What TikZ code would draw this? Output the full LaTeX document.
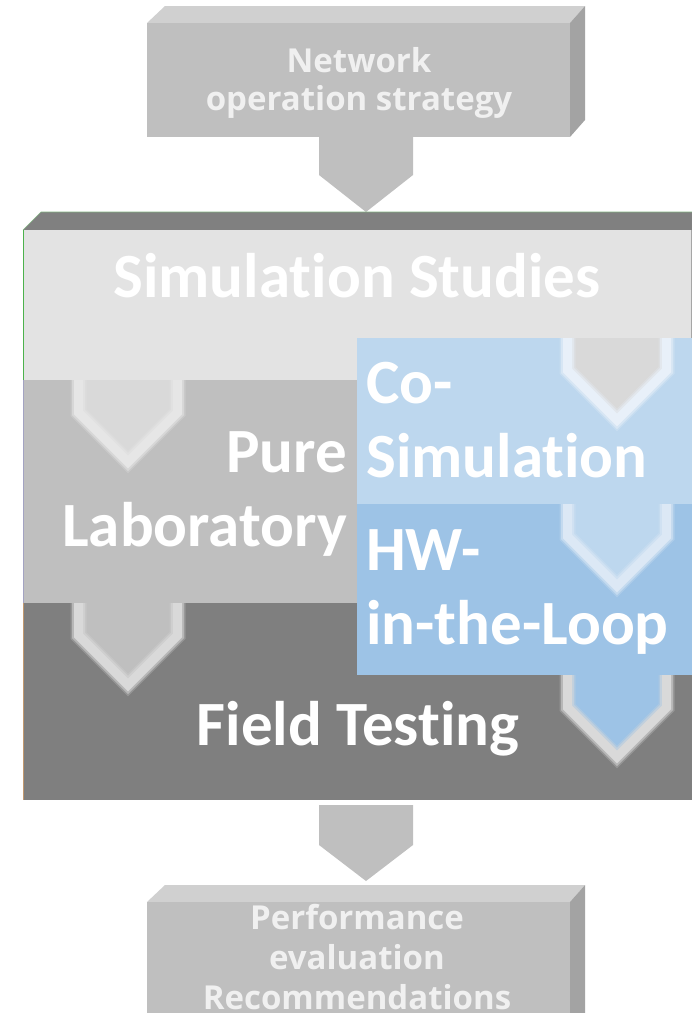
\documentclass[tikz,border=0pt]{standalone}
\usepackage{fontspec}
\setmainfont{Carlito}[Ligatures={NoCommon,NoContextual}]
\newfontfamily\boxfont{Open Sans}

% stacked lines whose baseline is the first line
\newcommand{\txtstack}[2]{\begin{tabular}[t]{@{}#1@{}}#2\end{tabular}}

\definecolor{boxfront}{HTML}{BFBFBF}
\definecolor{boxtop}{HTML}{D0D0D0}
\definecolor{boxside}{HTML}{A3A3A3}
\definecolor{bevel}{HTML}{808080}
\definecolor{simband}{HTML}{E3E3E3}
\definecolor{labband}{HTML}{BFBFBF}
\definecolor{fieldband}{HTML}{7F7F7F}
\definecolor{cosim}{HTML}{BDD7EE}
\definecolor{hwloop}{HTML}{9DC3E6}
\definecolor{glowgray}{HTML}{E6E6E6}
\definecolor{glowdark}{HTML}{D9D9D9}
\definecolor{glowblue}{HTML}{E8F0F9}
\definecolor{glowblue2}{HTML}{DCE8F5}

\tikzset{
  bigtext/.style={inner sep=0pt, text=white, font=\fontsize{63}{74}\selectfont\bfseries},
  smalltext/.style={inner sep=0pt, text=white!94!black, font=\boxfont\fontsize{33}{#1}\selectfont\bfseries},
}

% hollow chevron: centre x, top y, rim colour, inner colour
\newcommand{\chevron}[4]{%
  \fill[#4] ({#1-49.5},#2) -- ({#1-49.5},{#2+32.5}) -- (#1,{#2+82}) -- ({#1+49.5},{#2+32.5}) -- ({#1+49.5},#2) -- cycle;
  \foreach \w/\o in {16/0.25, 13/0.5, 9/1}{
    \draw[#3, line width=\w pt, opacity=\o, line join=miter]
      ({#1-49.5},#2) -- ({#1-49.5},{#2+32.5}) -- (#1,{#2+82}) -- ({#1+49.5},{#2+32.5}) -- ({#1+49.5},#2);
  }%
}

\begin{document}
\begin{tikzpicture}[x=1pt, y=-1pt]
\useasboundingbox (0,0) rectangle (692,1013);
\clip (0,0) rectangle (692,1013);

% ---- input block ----
\fill[boxtop] (147,23) -- (165,6) -- (585,6) -- (570,23) -- cycle;
\fill[boxside] (570,23) -- (585,6) -- (585,120) -- (570,137) -- cycle;
\fill[boxfront] (147,23) rectangle (570,137);
\node[smalltext=38, anchor=base] (strategy) at (359,72)
  {\txtstack{c}{Network\\operation strategy}};
\fill[boxfront] (319,137) -- (413,137) -- (413,175) -- (366,212) -- (319,175) -- cycle;

% ---- stacked stages ----
\fill[bevel] (23,230) -- (41,212) -- (692,212) -- (692,230) -- cycle;
\draw[green!25!gray!80, line width=0.6pt] (23,230) -- (41,212) -- (692,212);
\fill[simband] (23,230) rectangle (692,380);
\fill[labband] (23,380) rectangle (692,603);
\fill[fieldband] (23,603) rectangle (692,800);
\draw[green!40!gray, line width=1pt] (23.5,230) -- (23.5,380);
\draw[blue!20!gray!60, line width=1pt] (23.5,380) -- (23.5,603);
\draw[orange!40!gray!80, line width=1pt] (23.5,603) -- (23.5,800);
\draw[gray!70, line width=1pt] (691,230) -- (691,338);

\chevron{128}{380}{glowgray}{glowdark}
\chevron{128}{603}{glowdark}{labband}

\fill[cosim] (357,338) rectangle (692,504);
\fill[hwloop] (357,504) rectangle (692,675);
\chevron{617}{338}{glowblue}{glowdark}
\chevron{617}{504}{glowblue2}{cosim}
\chevron{617}{675}{glowdark}{hwloop}

\node[bigtext, anchor=base] (sim) at (357,297) {Simulation Studies};
\node[bigtext, anchor=base east] (lab) at (347,472) {\txtstack{r}{Pure\\Laboratory}};
\node[bigtext, anchor=base west] (cosimtext) at (366,403) {\txtstack{l}{Co-\\Simulation}};
\node[bigtext, anchor=base west] (hiltext) at (366,570) {\txtstack{l}{HW-\\in-the-Loop}};
\node[bigtext, anchor=base] (field) at (358,745) {Field Testing};

% ---- output block ----
\fill[boxfront] (319,805) -- (413,805) -- (413,845) -- (366,881) -- (319,845) -- cycle;
\fill[boxtop] (147,902) -- (165,885) -- (585,885) -- (570,902) -- cycle;
\fill[boxside] (570,902) -- (585,885) -- (585,1020) -- (570,1020) -- cycle;
\fill[boxfront] (147,902) rectangle (570,1020);
\node[smalltext=40, anchor=base] (results) at (357,929)
  {\txtstack{c}{Performance\\evaluation\\Recommendations}};
\end{tikzpicture}
\end{document}
